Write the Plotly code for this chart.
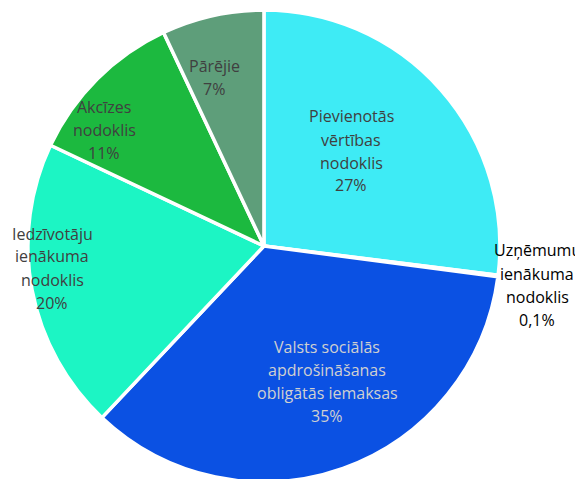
import plotly.graph_objects as go

categories = [
    "Pievienotās vērtības nodoklis",
    "Uzņēmumu ienākuma nodoklis",
    "Valsts sociālās apdrošināšanas obligātās iemaksas",
    "Iedzīvotāju ienākuma nodoklis",
    "Akcīzes nodoklis",
    "Pārējie",
]
label_lines = [
    ["Pievienotās", "vērtības", "nodoklis"],
    ["Uzņēmumu", "ienākuma", "nodoklis"],
    ["Valsts sociālās", "apdrošināšanas", "obligātās iemaksas"],
    ["Iedzīvotāju", "ienākuma", "nodoklis"],
    ["Akcīzes", "nodoklis"],
    ["Pārējie"],
]
shares = [27, 0.1, 35, 20, 11, 7]

colors = ["#3EEBF5", "#8DB4E2", "#0B51E3", "#1CF5C4", "#1CB93F", "#5E9E7A"]
text_colors = ["#404040", "#000000", "#D0D0D0", "#404040", "#404040", "#404040"]

W, H = 583, 479
OFF = 8  # page body margin offset
# label block centres in screen pixels (x, y)
label_px = [(351, 151), (537, 285), (327, 381), (52, 268), (104, 130), (214, 77)]
LINE = 23

def pct(v):
    return (f"{v:g}%").replace(".", ",")

fig = go.Figure(go.Pie(
    labels=categories,
    values=shares,
    sort=False,
    direction="clockwise",
    rotation=0,
    marker=dict(colors=colors, line=dict(color="white", width=3.5)),
    textinfo="none",
    hoverinfo="label+percent",
    showlegend=False,
    domain=dict(x=[0.034, 0.844], y=[0.0104, 0.9958]),
))

for lines, v, c, (px, py) in zip(label_lines, shares, text_colors, label_px):
    all_lines = lines + [pct(v)]
    n = len(all_lines)
    for i, t in enumerate(all_lines):
        y = py + (i - (n - 1) / 2) * LINE
        fig.add_annotation(
            x=(px - OFF) / W, y=1 - (y - OFF) / H, xref="paper", yref="paper",
            text=t, showarrow=False,
            font=dict(family="Open Sans, Lato, sans-serif", size=16, color=c),
            align="center", xanchor="center", yanchor="middle",
        )

fig.update_layout(
    width=W, height=H,
    margin=dict(l=0, r=0, t=0, b=0),
    paper_bgcolor="white", plot_bgcolor="white",
)
fig.write_html("out.html")
